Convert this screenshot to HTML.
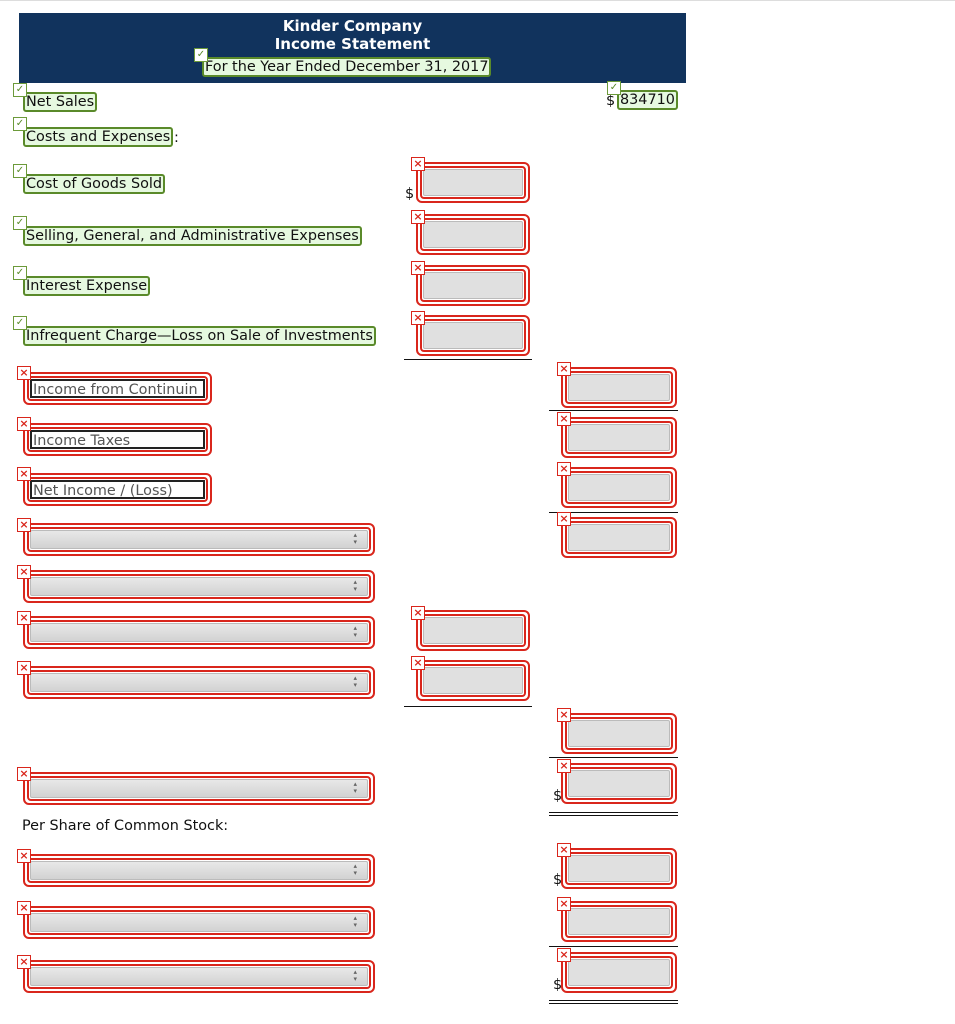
<!DOCTYPE html>
<html><head><meta charset="utf-8"><style>
body{margin:0;width:955px;height:1024px;background:#fff;position:relative;overflow:hidden;font-family:"DejaVu Sans","Liberation Sans",sans-serif;font-size:14.4px;color:#111}
.a{position:absolute}
.top{left:0;top:0;width:955px;height:1px;background:#ddd}
.hdr{left:19px;top:13px;width:667px;height:70px;background:#11335d;color:#fff;text-align:center;font-weight:bold;font-size:15px}
.g{position:absolute;border:2px solid #5a8a2a;border-radius:3px;background:#e6f9e0;height:16px;line-height:16px;padding:0 1px;white-space:nowrap;color:#111}
.ck{position:absolute;width:12px;height:12px;border:1px solid #6c9a3a;background:#fff;color:#5a8a2a;font-size:10px;line-height:12px;text-align:center}
.x{position:absolute;width:12px;height:12px;border:1px solid #d9261c;background:#fff;color:#d9261c;font-size:11px;font-weight:bold;line-height:12px;text-align:center;z-index:2}
.r{position:absolute;border:2px solid #d9261c;border-radius:6px;background:#fff;padding:2px;box-sizing:border-box}
.r>div{border:2px solid #d9261c;border-radius:4px;height:100%;box-sizing:border-box;padding:1px;background:#fff}
.r>div>div{background:#e0e0e0;height:100%;border:1px solid #bbb;border-radius:2px;box-sizing:border-box}
.t>div>div{background:#fff;border:2px solid #222;border-radius:0;color:#555;padding-left:1px;line-height:19px;white-space:nowrap;overflow:hidden;font-size:14.4px}
.s>div>div{background:linear-gradient(#e8e8e8,#d2d2d2);position:relative}
.s>div>div:after{content:"▴\A▾";white-space:pre;position:absolute;right:10px;top:1px;font-size:7px;line-height:7px;color:#666}
.ln{position:absolute;height:1px;background:#111}
.dl{position:absolute;height:1px;border-top:1px solid #111;border-bottom:1px solid #111;height:2px;box-sizing:content-box}
.d{position:absolute;font-size:14.4px}
</style></head><body>
<div class="a top"></div>
<div class="a hdr"><div style="margin-top:4px;line-height:18px">Kinder Company<br>Income Statement</div></div>
<div class="g" style="left:202px;top:57px;">For the Year Ended December 31, 2017</div><div class="ck" style="left:194px;top:48px">✓</div>

<div class="g" style="left:23px;top:92px">Net Sales</div><div class="ck" style="left:13px;top:83px">✓</div>
<div class="g" style="left:23px;top:127px">Costs and Expenses</div><div class="ck" style="left:13px;top:117px">✓</div><div class="d" style="left:174px;top:130px">:</div>
<div class="g" style="left:23px;top:174px">Cost of Goods Sold</div><div class="ck" style="left:13px;top:164px">✓</div>
<div class="g" style="left:23px;top:226px">Selling, General, and Administrative Expenses</div><div class="ck" style="left:13px;top:216px">✓</div>
<div class="g" style="left:23px;top:276px">Interest Expense</div><div class="ck" style="left:13px;top:266px">✓</div>
<div class="g" style="left:23px;top:326px">Infrequent Charge—Loss on Sale of Investments</div><div class="ck" style="left:13px;top:316px">✓</div>

<div class="d" style="left:606px;top:93px">$</div>
<div class="g" style="left:617px;top:90px">834710</div><div class="ck" style="left:607px;top:81px">✓</div>

<div class="d" style="left:405px;top:186px">$</div>
<div class="r" style="left:416px;top:162px;width:114px;height:41px"><div><div></div></div></div><div class="x" style="left:411px;top:157px">×</div>
<div class="r" style="left:416px;top:214px;width:114px;height:41px"><div><div></div></div></div><div class="x" style="left:411px;top:210px">×</div>
<div class="r" style="left:416px;top:265px;width:114px;height:41px"><div><div></div></div></div><div class="x" style="left:411px;top:261px">×</div>
<div class="r" style="left:416px;top:315px;width:114px;height:41px"><div><div></div></div></div><div class="x" style="left:411px;top:311px">×</div>
<div class="ln" style="left:404px;top:359px;width:128px"></div>
<div class="r" style="left:416px;top:610px;width:114px;height:41px"><div><div></div></div></div><div class="x" style="left:411px;top:606px">×</div>
<div class="r" style="left:416px;top:660px;width:114px;height:41px"><div><div></div></div></div><div class="x" style="left:411px;top:656px">×</div>
<div class="ln" style="left:404px;top:706px;width:128px"></div>

<div class="r" style="left:561px;top:367px;width:116px;height:41px"><div><div></div></div></div><div class="x" style="left:557px;top:362px">×</div>
<div class="ln" style="left:549px;top:410px;width:129px"></div>
<div class="r" style="left:561px;top:417px;width:116px;height:41px"><div><div></div></div></div><div class="x" style="left:557px;top:412px">×</div>
<div class="r" style="left:561px;top:467px;width:116px;height:41px"><div><div></div></div></div><div class="x" style="left:557px;top:462px">×</div>
<div class="ln" style="left:549px;top:512px;width:129px"></div>
<div class="r" style="left:561px;top:517px;width:116px;height:41px"><div><div></div></div></div><div class="x" style="left:557px;top:512px">×</div>
<div class="r" style="left:561px;top:713px;width:116px;height:41px"><div><div></div></div></div><div class="x" style="left:557px;top:708px">×</div>
<div class="ln" style="left:549px;top:757px;width:129px"></div>
<div class="d" style="left:553px;top:788px">$</div>
<div class="r" style="left:561px;top:763px;width:116px;height:41px"><div><div></div></div></div><div class="x" style="left:557px;top:759px">×</div>
<div class="dl" style="left:549px;top:812px;width:129px"></div>
<div class="d" style="left:553px;top:872px">$</div>
<div class="r" style="left:561px;top:848px;width:116px;height:41px"><div><div></div></div></div><div class="x" style="left:557px;top:843px">×</div>
<div class="r" style="left:561px;top:901px;width:116px;height:41px"><div><div></div></div></div><div class="x" style="left:557px;top:897px">×</div>
<div class="ln" style="left:549px;top:946px;width:129px"></div>
<div class="d" style="left:553px;top:977px">$</div>
<div class="r" style="left:561px;top:952px;width:116px;height:41px"><div><div></div></div></div><div class="x" style="left:557px;top:948px">×</div>
<div class="dl" style="left:549px;top:1000px;width:129px"></div>

<div class="r t" style="left:23px;top:372px;width:189px;height:33px"><div><div>Income from Continuin</div></div></div><div class="x" style="left:17px;top:366px">×</div>
<div class="r t" style="left:23px;top:423px;width:189px;height:33px"><div><div>Income Taxes</div></div></div><div class="x" style="left:17px;top:417px">×</div>
<div class="r t" style="left:23px;top:473px;width:189px;height:33px"><div><div>Net Income / (Loss)</div></div></div><div class="x" style="left:17px;top:467px">×</div>

<div class="r s" style="left:23px;top:523px;width:352px;height:33px"><div><div></div></div></div><div class="x" style="left:17px;top:518px">×</div>
<div class="r s" style="left:23px;top:570px;width:352px;height:33px"><div><div></div></div></div><div class="x" style="left:17px;top:565px">×</div>
<div class="r s" style="left:23px;top:616px;width:352px;height:33px"><div><div></div></div></div><div class="x" style="left:17px;top:611px">×</div>
<div class="r s" style="left:23px;top:666px;width:352px;height:33px"><div><div></div></div></div><div class="x" style="left:17px;top:661px">×</div>
<div class="r s" style="left:23px;top:772px;width:352px;height:33px"><div><div></div></div></div><div class="x" style="left:17px;top:767px">×</div>
<div class="d" style="left:22px;top:818px">Per Share of Common Stock:</div>
<div class="r s" style="left:23px;top:854px;width:352px;height:33px"><div><div></div></div></div><div class="x" style="left:17px;top:849px">×</div>
<div class="r s" style="left:23px;top:906px;width:352px;height:33px"><div><div></div></div></div><div class="x" style="left:17px;top:901px">×</div>
<div class="r s" style="left:23px;top:960px;width:352px;height:33px"><div><div></div></div></div><div class="x" style="left:17px;top:955px">×</div>
</body></html>
